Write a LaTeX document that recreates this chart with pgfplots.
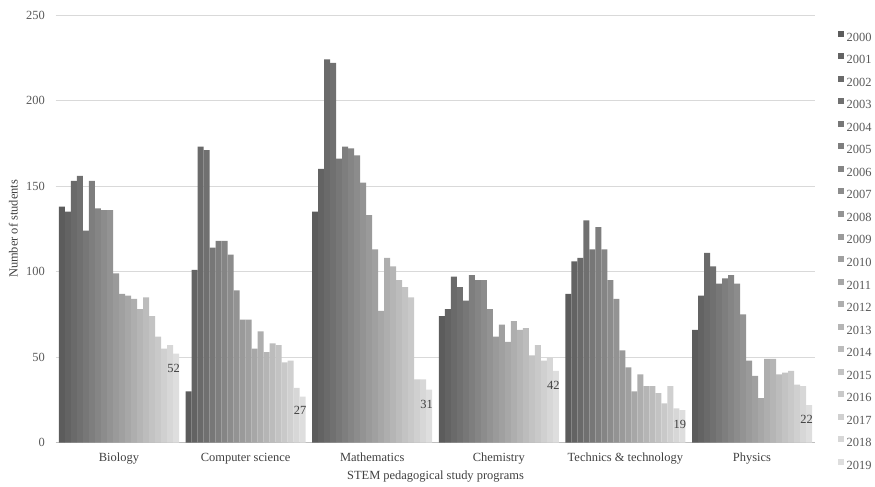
\documentclass[border=0pt]{standalone}
\usepackage{fontspec}
\setmainfont{Liberation Serif}
\usepackage{pgfplots}
\usepackage{pgfplotstable}
\pgfplotsset{compat=1.18}

\definecolor{c0}{gray}{0.360}
\definecolor{c1}{gray}{0.387}
\definecolor{c2}{gray}{0.414}
\definecolor{c3}{gray}{0.441}
\definecolor{c4}{gray}{0.467}
\definecolor{c5}{gray}{0.494}
\definecolor{c6}{gray}{0.521}
\definecolor{c7}{gray}{0.548}
\definecolor{c8}{gray}{0.575}
\definecolor{c9}{gray}{0.602}
\definecolor{c10}{gray}{0.628}
\definecolor{c11}{gray}{0.655}
\definecolor{c12}{gray}{0.682}
\definecolor{c13}{gray}{0.709}
\definecolor{c14}{gray}{0.736}
\definecolor{c15}{gray}{0.763}
\definecolor{c16}{gray}{0.789}
\definecolor{c17}{gray}{0.816}
\definecolor{c18}{gray}{0.843}
\definecolor{c19}{gray}{0.870}
\definecolor{ticktxt}{HTML}{595959}
\definecolor{labtxt}{HTML}{404040}
\definecolor{gridc}{HTML}{D9D9D9}
\definecolor{axisc}{HTML}{BFBFBF}

% columns: group index, then years 2000 (y0) ... 2019 (y19)
\pgfplotstableread{
x y0 y1 y2 y3 y4 y5 y6 y7 y8 y9 y10 y11 y12 y13 y14 y15 y16 y17 y18 y19
0 138 135 153 156 124 153 137 136 136 99 87 86 84 78 85 74 62 55 57 52
1 30 101 173 171 114 118 118 110 89 72 72 55 65 53 58 57 47 48 32 27
2 135 160 224 222 166 173 172 168 152 133 113 77 108 103 95 91 85 37 37 31
3 74 78 97 91 83 98 95 95 78 62 69 59 71 66 67 51 57 48 50 42
4 87 106 108 130 113 126 113 95 84 54 44 30 40 33 33 29 23 33 20 19
5 66 86 111 103 93 96 98 93 75 48 39 26 49 49 40 41 42 34 33 22
}\data

\pgfplotsset{
  sq/.style={legend image code/.code={\fill[##1] (0bp,1.2bp) rectangle (6bp,7.2bp);}},
}

\begin{document}
\begin{tikzpicture}[x=1bp,y=1bp]
\path[use as bounding box] (0,0) rectangle (875,487);
\begin{axis}[
  at={(55.7bp,44.3bp)}, anchor=south west,
  scale only axis, width=759.6bp, height=427.7bp,
  xmin=-0.5, xmax=5.5, ymin=0, ymax=250,
  ybar=0pt, bar width=0.0474,
  font=\fontsize{12.5}{15}\selectfont,
  /pgf/number format/assume math mode=true,
  axis x line*=bottom, axis y line*=left,
  x axis line style={draw=axisc, line width=0.75bp},
  y axis line style={draw=none},
  major tick length=0pt,
  xtick={0,1,2,3,4,5},
  xticklabels={Biology, Computer science, Mathematics, Chemistry, Technics \& technology, Physics},
  ytick={0,50,100,150,200,250},
  ymajorgrids, grid style={draw=gridc, line width=0.75bp},
  xticklabel style={anchor=base, yshift=-19.3bp, text=labtxt, inner sep=0pt},
  yticklabel style={anchor=east, xshift=-10.7bp, text=ticktxt, inner sep=0pt},
  ylabel={Number of students},
  xlabel={STEM pedagogical study programs},
  every axis y label/.style={at={(axis description cs:-0.0558,0.5)}, rotate=90, anchor=center, text=labtxt},
  every axis x label/.style={at={(axis description cs:0.5,-0.0802)}, anchor=center, text=labtxt},
  legend style={at={(axis description cs:1,1)}, anchor=north west, xshift=23bp, yshift=-15.6bp,
    draw=none, fill=none, inner sep=0pt, outer sep=0pt, row sep=9.6bp, column sep=2.4bp,
    nodes={inner sep=0pt, text height=9bp, text depth=2.5bp, text=ticktxt},
    font=\fontsize{12.5}{15}\selectfont},
  legend cell align=left,
]
\pgfplotsinvokeforeach{0,1,2,3,4,5,6,7,8,9,10,11,12,13,14,15,16,17,18}{
  \addplot[fill=c#1, draw=none, sq] table[x=x, y=y#1] {\data};
}
\addplot[fill=c19, draw=none, sq, nodes near coords, nodes near coords align=below,
  every node near coord/.append style={yshift=-6.6bp, xshift=-2.5bp, text=labtxt, font=\fontsize{12.5}{15}\selectfont}]
  table[x=x, y=y19] {\data};
\legend{2000,2001,2002,2003,2004,2005,2006,2007,2008,2009,2010,2011,2012,2013,2014,2015,2016,2017,2018,2019}
\end{axis}
\end{tikzpicture}
\end{document}
